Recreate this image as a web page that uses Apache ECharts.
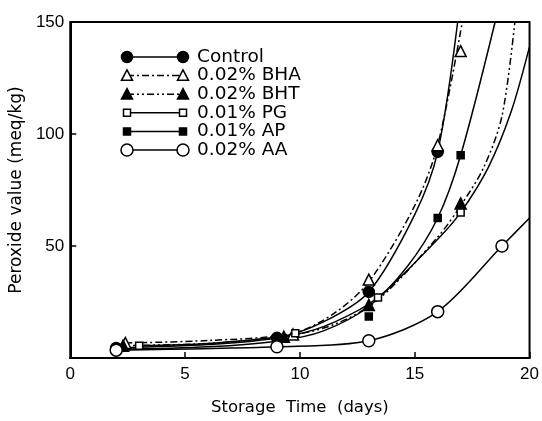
<!DOCTYPE html>
<html><head><meta charset="utf-8">
<script src="https://cdn.jsdelivr.net/npm/echarts@6/dist/echarts.min.js"></script>
<style>html,body{margin:0;padding:0;background:#fff}#c{width:542px;height:421px}</style>
</head><body><div id="c"></div>
<script>
// ---- axis ticks ----
const xTicks = [0, 5, 10, 15, 20];
const yTicks = [0, 50, 100, 150];

// ---- series names ----
const seriesNames = ['Control', '0.02% BHA', '0.02% BHT', '0.01% PG', '0.01% AP', '0.02% AA'];

// ---- measured points (days, peroxide value) ----
const controlDays = [2, 9, 13, 16];
const controlPV   = [4.5, 9, 29.5, 92];
const bhaDays = [2.4, 9.7, 13, 16, 17];
const bhaPV   = [6.7, 10.5, 35, 95, 137];
const bhtDays = [2.3, 9.3, 13, 17];
const bhtPV   = [5.5, 9.5, 23.7, 69];
const pgDays = [3, 9.8, 13.4, 17];
const pgPV   = [5.5, 11, 27, 65];
const apDays = [2, 9, 13, 16, 17];
const apPV   = [3.8, 8, 18.5, 62.5, 90.5];
const aaDays = [2, 9, 13, 16, 18.8];
const aaPV   = [3.5, 5, 7.7, 20.7, 50];

// ---- fitted curves ----
const controlCurveDays = [2, 6, 9, 11, 13, 15, 16, 16.87];
const controlCurvePV   = [4.5, 6, 9, 16, 29.5, 64, 92, 150];
const bhaCurveDays = [2.4, 6, 9.7, 11.5, 13, 15, 16, 17.07];
const bhaCurvePV   = [6.7, 7.8, 11, 20, 34, 68, 95, 150];
const bhtCurveDays = [2.3, 6, 9.3, 11.5, 13.4, 16, 17, 18, 18.8, 19.36];
const bhtCurvePV   = [5.5, 6.5, 9.5, 15, 26, 54, 68, 85, 108, 150];
const pgCurveDays = [3, 6, 9.8, 11.5, 13.4, 16, 17, 18.2, 19.2, 20];
const pgCurvePV   = [5.5, 6.5, 10.5, 16, 27, 53, 65, 85, 110, 139];
const apCurveDays = [2, 6, 9, 11, 13, 14.66, 16, 17, 18.5];
const apCurvePV   = [3.8, 5, 7.5, 12, 23, 40.6, 62.5, 90.5, 150];
const aaCurveDays = [2, 9, 13, 16, 18.8, 20];
const aaCurvePV   = [3.5, 5, 7.7, 20.7, 50, 62.5];

const pointSets = [
  [controlDays, controlPV], [bhaDays, bhaPV], [bhtDays, bhtPV],
  [pgDays, pgPV], [apDays, apPV], [aaDays, aaPV]
];
const curveSets = [
  [controlCurveDays, controlCurvePV], [bhaCurveDays, bhaCurvePV], [bhtCurveDays, bhtCurvePV],
  [pgCurveDays, pgCurvePV], [apCurveDays, apCurvePV], [aaCurveDays, aaCurvePV]
];

// ---- styles ----
const styles = [
  {symbol: 'circle',   size: 11, fill: '#000', dash: 'solid'},
  {symbol: 'triangle', size: 11, fill: '#fff', dash: [7, 3, 2, 3]},
  {symbol: 'triangle', size: 11, fill: '#000', dash: [7, 3, 2, 3, 2, 3]},
  {symbol: 'rect',     size: 7,  fill: '#fff', dash: 'solid'},
  {symbol: 'rect',     size: 7,  fill: '#000', dash: 'solid'},
  {symbol: 'circle',   size: 12, fill: '#fff', dash: 'solid'}
];

const zip = (a, b) => a.map((v, i) => [v, b[i]]);
const series = [];
seriesNames.forEach((name, i) => {
  const st = styles[i];
  series.push({
    name: name + ' curve', type: 'line',
    data: zip(curveSets[i][0], curveSets[i][1]),
    showSymbol: false, smooth: 0.3, clip: true,
    lineStyle: {color: '#000', width: 1.5, type: st.dash},
    z: 2, silent: true
  });
  series.push({
    name: name, type: 'scatter',
    data: zip(pointSets[i][0], pointSets[i][1]),
    symbol: st.symbol, symbolSize: st.size,
    itemStyle: {color: st.fill, borderColor: '#000', borderWidth: 1.5, opacity: 1},
    z: 3, silent: true
  });
});

// ---- legend drawn as graphic (marker — line — marker) ----
const legendX1 = 127, legendX2 = 183, legendTextX = 197, legendY0 = 57, legendDy = 18.6;
function marker(st, cx, cy) {
  const s = st.size;
  const style = {fill: st.fill, stroke: '#000', lineWidth: 1.5};
  if (st.symbol === 'circle') return {type: 'circle', shape: {cx, cy, r: s / 2}, style};
  if (st.symbol === 'rect') return {type: 'rect', shape: {x: cx - s / 2, y: cy - s / 2, width: s, height: s}, style};
  const h = s * 0.85;
  return {type: 'polygon', shape: {points: [[cx, cy - h / 2 - 1], [cx + s / 2, cy + h / 2], [cx - s / 2, cy + h / 2]]}, style};
}
const graphics = [];
seriesNames.forEach((name, i) => {
  const st = styles[i];
  const y = legendY0 + i * legendDy;
  graphics.push({type: 'line', shape: {x1: legendX1, y1: y, x2: legendX2, y2: y},
    style: {stroke: '#000', lineWidth: 1.5, lineDash: st.dash === 'solid' ? null : st.dash}});
  graphics.push(marker(st, legendX1, y));
  graphics.push(marker(st, legendX2, y));
  graphics.push({type: 'text', x: legendTextX, y: y,
    style: {text: name, font: '18.5px "DejaVu Sans"', fill: '#000', textVerticalAlign: 'middle', textBaseline: 'middle'}});
});

const chart = echarts.init(document.getElementById('c'), null, {renderer: 'canvas'});
chart.setOption({
  animation: false,
  backgroundColor: '#fff',
  grid: {left: 67, right: 7, top: 22, bottom: 63, show: true, borderColor: '#000', borderWidth: 2},
  xAxis: {
    type: 'value', min: xTicks[0], max: xTicks[xTicks.length - 1], interval: 5,
    name: 'Storage  Time  (days)', nameLocation: 'middle', nameGap: 41,
    nameTextStyle: {fontFamily: 'DejaVu Sans', fontSize: 16.5, color: '#000'},
    axisLine: {show: true, lineStyle: {color: '#000', width: 2}},
    axisTick: {show: true, inside: true, length: 6, lineStyle: {color: '#000', width: 1.5}},
    axisLabel: {margin: 8, fontFamily: 'Liberation Sans', fontSize: 17, color: '#000'},
    splitLine: {show: false}
  },
  yAxis: {
    type: 'value', min: yTicks[0], max: yTicks[yTicks.length - 1], interval: 50,
    name: 'Peroxide value (meq/kg)', nameLocation: 'middle', nameGap: 38, nameRotate: 90,
    nameTextStyle: {fontFamily: 'DejaVu Sans', fontSize: 17, color: '#000'},
    axisLine: {show: true, lineStyle: {color: '#000', width: 2}},
    axisTick: {show: true, inside: true, length: 6, lineStyle: {color: '#000', width: 1.5}},
    axisLabel: {margin: 6, fontFamily: 'Liberation Sans', fontSize: 17, color: '#000',
      formatter: v => (v === 0 ? '' : String(v))},
    splitLine: {show: false}
  },
  series: series,
  graphic: graphics
});
</script>
</body></html>
